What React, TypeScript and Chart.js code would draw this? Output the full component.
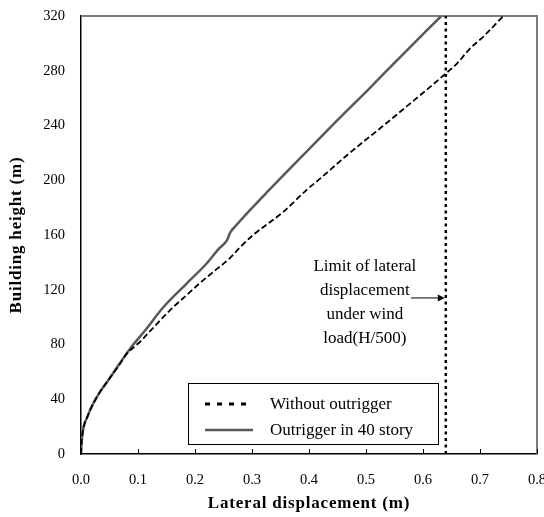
import React, { useEffect, useRef } from "react";
import { Chart, registerables } from "chart.js";

Chart.register(...registerables);

const SERIF = '"Liberation Serif", "Times New Roman", serif';

// Axis ranges and ticks
const xMin = 0;
const xMax = 0.8;
const xStep = 0.1;
const yMin = 0;
const yMax = 320;
const yStep = 40;

// Series names
const seriesNames = ["Without outrigger", "Outrigger in 40 story"];

// Without outrigger: lateral displacement (m) at building height (m)
const plainHeight = [0, 8, 16, 22, 26, 33, 42.5, 54, 65, 72, 83, 91, 105, 116, 125, 133, 143, 151, 160, 177, 193, 201, 217, 229, 238, 249, 258, 268, 278, 285, 296, 305, 320];
const plainDisp = [0, 0.001, 0.003, 0.006, 0.010, 0.017, 0.029, 0.048, 0.067, 0.078, 0.106, 0.124, 0.156, 0.185, 0.209, 0.232, 0.261, 0.279, 0.302, 0.355, 0.396, 0.419, 0.463, 0.498, 0.525, 0.557, 0.583, 0.612, 0.640, 0.659, 0.682, 0.706, 0.741];

// Outrigger in 40 story: lateral displacement (m) at building height (m)
const outriggerHeight = [0, 8, 16, 22, 26, 33, 42.5, 54, 65, 78, 90, 107, 124, 139, 150, 156, 162, 166, 178, 192, 216, 241, 265, 290, 320];
const outriggerDisp = [0, 0.001, 0.003, 0.006, 0.010, 0.017, 0.029, 0.048, 0.066, 0.088, 0.112, 0.144, 0.184, 0.220, 0.242, 0.256, 0.262, 0.270, 0.296, 0.328, 0.384, 0.443, 0.501, 0.560, 0.632];

// Drift limit H/500 for H = 320 m
const driftLimit = 0.64;

// Note next to the limit line
const noteLines = ["Limit of lateral", "displacement", "under wind", "load(H/500)"];
const noteCenterX = 0.498;
const noteTopY = 137;
const arrowY = 114;
const arrowStartX = 0.579;

const xTitle = "Lateral displacement (m)";
const yTitle = "Building height (m)";

const toPoints = (xs: number[], ys: number[]) => xs.map((x, i) => ({ x, y: ys[i] }));

const plotExtras = {
  id: "plotExtras",
  beforeDatasetsDraw(chart: any) {
    const { ctx, chartArea: a, scales } = chart;
    const xs = scales.x;
    ctx.save();
    // grey frame on top and right
    ctx.strokeStyle = "#7a7a7a";
    ctx.lineWidth = 2;
    ctx.beginPath();
    ctx.moveTo(a.left, a.top);
    ctx.lineTo(a.right, a.top);
    ctx.lineTo(a.right, a.bottom);
    ctx.stroke();
    // inward tick marks on the x axis
    ctx.strokeStyle = "#000";
    ctx.lineWidth = 1;
    for (let v = xMin + xStep; v < xMax + 1e-9; v += xStep) {
      const px = Math.round(xs.getPixelForValue(v)) + 0.5;
      ctx.beginPath();
      ctx.moveTo(px, a.bottom);
      ctx.lineTo(px, a.bottom - 5);
      ctx.stroke();
    }
    ctx.restore();
  },
  afterDraw(chart: any) {
    const { ctx, chartArea: a, scales } = chart;
    const xs = scales.x;
    const ys = scales.y;
    ctx.save();

    // note and arrow
    ctx.fillStyle = "#000";
    ctx.font = `17px ${SERIF}`;
    ctx.textAlign = "center";
    ctx.textBaseline = "middle";
    const cx = xs.getPixelForValue(noteCenterX);
    const top = ys.getPixelForValue(noteTopY);
    noteLines.forEach((t, i) => ctx.fillText(t, cx, top + i * 24));
    const ay = ys.getPixelForValue(arrowY);
    const ax0 = xs.getPixelForValue(arrowStartX);
    const ax1 = xs.getPixelForValue(driftLimit) - 1;
    ctx.strokeStyle = "#000";
    ctx.lineWidth = 1;
    ctx.beginPath();
    ctx.moveTo(ax0, ay);
    ctx.lineTo(ax1 - 5, ay);
    ctx.stroke();
    ctx.beginPath();
    ctx.moveTo(ax1, ay);
    ctx.lineTo(ax1 - 7, ay - 3.5);
    ctx.lineTo(ax1 - 7, ay + 3.5);
    ctx.closePath();
    ctx.fill();

    // legend box
    const lx = a.left + 107;
    const ly = a.top + 367;
    const lw = 250;
    const lh = 61;
    ctx.fillStyle = "#fff";
    ctx.fillRect(lx, ly, lw, lh);
    ctx.strokeStyle = "#000";
    ctx.lineWidth = 1;
    ctx.strokeRect(lx + 0.5, ly + 0.5, lw, lh);
    const ds = chart.data.datasets;
    const rows = [ly + 21, ly + 47];
    [0, 1].forEach((k) => {
      const d = ds[k];
      ctx.save();
      ctx.strokeStyle = d.borderColor;
      ctx.lineWidth = k === 0 ? 3 : 2.5;
      ctx.setLineDash(k === 0 ? [5, 7] : []);
      ctx.beginPath();
      ctx.moveTo(lx + 17, rows[k]);
      ctx.lineTo(lx + 65, rows[k]);
      ctx.stroke();
      ctx.restore();
      ctx.fillStyle = "#000";
      ctx.font = `17px ${SERIF}`;
      ctx.textAlign = "left";
      ctx.textBaseline = "middle";
      ctx.fillText(d.label, lx + 82, rows[k] + 1);
    });

    // axis titles
    ctx.fillStyle = "#000";
    ctx.font = `bold 17px ${SERIF}`;
    (ctx as any).letterSpacing = "0.8px";
    ctx.textAlign = "center";
    ctx.textBaseline = "middle";
    ctx.fillText(xTitle, (a.left + a.right) / 2, 504);
    ctx.translate(17, (a.top + a.bottom) / 2);
    ctx.rotate(-Math.PI / 2);
    ctx.fillText(yTitle, 0, 0);
    ctx.restore();
  },
};

export default function App() {
  const ref = useRef<HTMLCanvasElement | null>(null);

  useEffect(() => {
    if (!ref.current) return;
    const chart = new Chart(ref.current, {
      type: "scatter",
      data: {
        datasets: [
          {
            label: seriesNames[0],
            data: toPoints(plainDisp, plainHeight),
            showLine: true,
            borderColor: "#000",
            borderWidth: 1.8,
            borderDash: [6, 3],
            pointRadius: 0,
            cubicInterpolationMode: "monotone",
          },
          {
            label: seriesNames[1],
            data: toPoints(outriggerDisp, outriggerHeight),
            showLine: true,
            borderColor: "#595959",
            borderWidth: 2.5,
            pointRadius: 0,
            cubicInterpolationMode: "monotone",
          },
          {
            label: "limit",
            data: [
              { x: driftLimit, y: yMin },
              { x: driftLimit, y: yMax },
            ],
            showLine: true,
            borderColor: "#000",
            borderWidth: 2.5,
            borderDash: [3, 3.5],
            pointRadius: 0,
          },
        ],
      },
      options: {
        responsive: false,
        animation: false,
        devicePixelRatio: 1,
        layout: { padding: { top: 16, right: 7, left: 0, bottom: 0 } },
        plugins: {
          legend: { display: false },
          tooltip: { enabled: false },
        },
        scales: {
          x: {
            type: "linear",
            min: xMin,
            max: xMax,
            ticks: {
              stepSize: xStep,
              color: "#000",
              font: { family: SERIF, size: 14.5 },
              padding: 17,
              callback: (v: any) => Number(v).toFixed(1),
            },
            grid: { display: false, drawTicks: false },
            border: { display: true, color: "#000", width: 1.5 },
            afterFit: (s: any) => {
              s.height = 63;
              s.paddingLeft = 0;
              s.paddingRight = 0;
            },
          },
          y: {
            type: "linear",
            min: yMin,
            max: yMax,
            ticks: {
              stepSize: yStep,
              color: "#000",
              font: { family: SERIF, size: 14.5 },
              padding: 16,
            },
            grid: { display: false, drawTicks: false },
            border: { display: true, color: "#000", width: 1.5 },
            afterFit: (s: any) => {
              s.width = 81;
              s.paddingTop = 0;
              s.paddingBottom = 0;
            },
          },
        },
      },
      plugins: [plotExtras],
    });
    return () => chart.destroy();
  }, []);

  return (
    <div style={{ position: "fixed", left: 0, top: 0, width: 544, height: 517, background: "#fff" }}>
      <canvas ref={ref} width={544} height={517} />
    </div>
  );
}
